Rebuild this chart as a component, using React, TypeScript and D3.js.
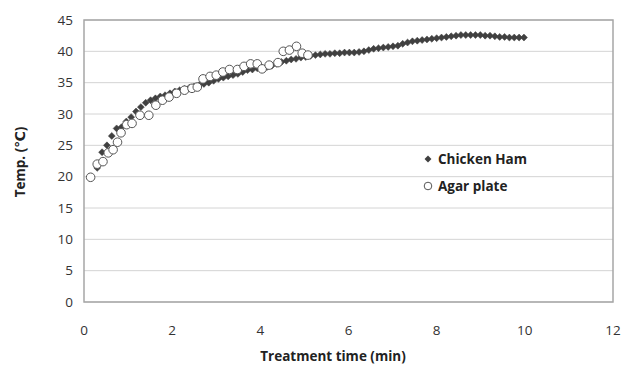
import React from "react";
import * as d3 from "d3";

// Chicken Ham: logged every 0.11 min starting at 0.3 min
const hamStart = 0.3;
const hamStep = 0.11;
const hamTemps = [
  21.4, 23.9, 25.0, 26.5, 27.7, 27.9, 28.8, 29.5, 30.4, 31.1,
  31.8, 32.2, 32.5, 32.8, 33.0, 33.3, 33.6, 33.8, 34.0, 34.2,
  34.4, 34.6, 34.8, 35.0, 35.3, 35.6, 35.8, 36.0, 36.2, 36.4,
  36.7, 37.0, 37.1, 37.3, 37.4, 37.5, 37.7, 38.0, 38.3, 38.5,
  38.7, 38.8, 39.0, 39.1, 39.3, 39.4, 39.5, 39.6, 39.6, 39.7,
  39.7, 39.8, 39.8, 39.8, 39.9, 40.0, 40.2, 40.4, 40.5, 40.6,
  40.7, 40.8, 40.9, 41.2, 41.4, 41.6, 41.7, 41.8, 41.9, 42.0,
  42.1, 42.2, 42.3, 42.4, 42.5, 42.6, 42.6, 42.6, 42.6, 42.6,
  42.5, 42.5, 42.4, 42.3, 42.3, 42.2, 42.2, 42.2, 42.2,
];

const agarTimes = [
  0.15, 0.3, 0.43, 0.55, 0.66, 0.76, 0.84, 0.97, 1.09, 1.27,
  1.47, 1.63, 1.78, 1.93, 2.1, 2.28, 2.45, 2.57, 2.7, 2.86,
  3.0, 3.15, 3.3, 3.48, 3.63, 3.78, 3.93, 4.04, 4.2, 4.4,
  4.52, 4.66, 4.82, 4.95, 5.08,
];
const agarTemps = [
  19.9, 22.0, 22.4, 23.8, 24.3, 25.5, 27.0, 28.3, 28.5, 29.8,
  29.8, 31.4, 32.2, 32.7, 33.3, 33.8, 34.1, 34.3, 35.6, 36.0,
  36.2, 36.7, 37.1, 37.1, 37.6, 38.0, 38.0, 37.2, 37.8, 38.2,
  40.0, 40.2, 40.8, 39.7, 39.4,
];

const xTicks = [0, 2, 4, 6, 8, 10, 12];
const yTicks = [0, 5, 10, 15, 20, 25, 30, 35, 40, 45];
const legendNames = ["Chicken Ham", "Agar plate"];

const W = 624;
const H = 365;
const font = "'Open Sans', 'DejaVu Sans', sans-serif";

export default function App() {
  const x = d3.scaleLinear().domain([0, 12]).range([84, 613]);
  const y = d3.scaleLinear().domain([0, 45]).range([302, 20]);

  const ham = hamTemps.map((v, i) => ({ t: hamStart + i * hamStep, v }));
  const agar = agarTimes.map((t, i) => ({ t, v: agarTemps[i] }));
  // square turned 45deg, like Excel's diamond marker
  const diamond = d3.symbol().type(d3.symbolSquare).size(24)() as string;

  return (
    <svg
      width={W}
      height={H}
      style={{ position: "absolute", left: 0, top: 0, background: "#fff" }}
    >
      {yTicks.map((t) => (
        <line
          key={`g${t}`}
          x1={x(0)}
          x2={x(12)}
          y1={y(t)}
          y2={y(t)}
          stroke="#d4d4d4"
          strokeWidth={1}
        />
      ))}
      <rect
        x={x(0)}
        y={y(45)}
        width={x(12) - x(0)}
        height={y(0) - y(45)}
        fill="none"
        stroke="#a6a6a6"
        strokeWidth={1.5}
      />

      {yTicks.map((t) => (
        <text
          key={`y${t}`}
          x={73}
          y={y(t)}
          dy="0.35em"
          textAnchor="end"
          fontSize={13.5}
          fontFamily={font}
          fill="#333"
        >
          {t}
        </text>
      ))}
      {xTicks.map((t) => (
        <text
          key={`x${t}`}
          x={x(t)}
          y={330}
          dy="0.35em"
          textAnchor="middle"
          fontSize={13.5}
          fontFamily={font}
          fill="#333"
        >
          {t}
        </text>
      ))}

      <text
        x={333}
        y={356}
        dy="0.35em"
        textAnchor="middle"
        fontSize={13.5}
        fontWeight="bold"
        fontFamily={font}
        fill="#222"
      >
        Treatment time (min)
      </text>
      <text
        transform="translate(20,162) rotate(-90)"
        textAnchor="middle"
        dy="0.35em"
        fontSize={13.5}
        fontWeight="bold"
        fontFamily={font}
        fill="#222"
      >
        Temp. (℃)
      </text>

      {ham.map((d, i) => (
        <path
          key={`h${i}`}
          d={diamond}
          transform={`translate(${x(d.t)},${y(d.v)}) rotate(45)`}
          fill="#404040"
          stroke="#404040"
          strokeWidth={0.5}
        />
      ))}
      {agar.map((d, i) => (
        <circle
          key={`a${i}`}
          cx={x(d.t)}
          cy={y(d.v)}
          r={4.3}
          fill="#fff"
          stroke="#555"
          strokeWidth={1}
        />
      ))}

      <path d={diamond} transform="translate(428,159) rotate(45)" fill="#404040" />
      <circle cx={428} cy={186} r={3.8} fill="#fff" stroke="#555" />
      {legendNames.map((n, i) => (
        <text
          key={n}
          x={438}
          y={159 + i * 27}
          dy="0.35em"
          fontSize={13.5}
          fontWeight="bold"
          fontFamily={font}
          fill="#222"
        >
          {n}
        </text>
      ))}
    </svg>
  );
}
